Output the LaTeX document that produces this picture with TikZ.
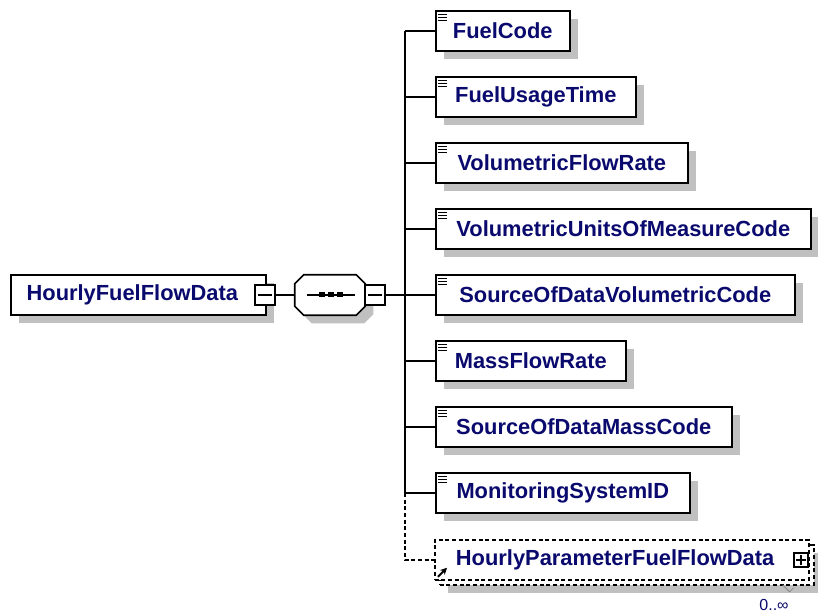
\documentclass[tikz,border=0pt]{standalone}
\usepackage{fontspec}
\setmainfont{Liberation Sans}
\usetikzlibrary{positioning, calc, arrows.meta, shadows}
\definecolor{xsdtext}{RGB}{10,10,110}
\definecolor{xsdshadow}{RGB}{192,192,192}

\begin{document}
\begin{tikzpicture}[x=0.75pt, y=-0.75pt, >=Stealth,
  elembox/.style={rectangle, draw, line width=1.2pt, fill=white, minimum height=30pt, inner sep=0pt, anchor=west, text=xsdtext, font=\fontsize{16.4}{19}\selectfont\bfseries},
  elem/.style={elembox, drop shadow={shadow xshift=6pt, shadow yshift=-6pt, fill=xsdshadow, opacity=1}},
  seqbox/.style={rectangle, minimum width=52.5pt, minimum height=30pt, inner sep=0pt},
  octagon/.style={draw, line width=1.2pt, fill=white, drop shadow={shadow xshift=6pt, shadow yshift=-6pt, fill=xsdshadow, opacity=1}},
  minusbox/.style={rectangle, draw, line width=1pt, fill=white, minimum size=15pt, inner sep=0pt, path picture={\draw[line width=1pt] ([xshift=2.5pt]path picture bounding box.west) -- ([xshift=-2.5pt]path picture bounding box.east);}},
  plusbox/.style={rectangle, draw, line width=1pt, fill=white, minimum size=10.5pt, inner sep=0pt, path picture={\draw[line width=1pt] ([xshift=1.8pt]path picture bounding box.west) -- ([xshift=-1.8pt]path picture bounding box.east) ([yshift=-1.8pt]path picture bounding box.north) -- ([yshift=1.8pt]path picture bounding box.south);}},
  conn/.style={line width=1.2pt}]
        \useasboundingbox (0,0) rectangle (818,616);

        % Nodes
        \node[elem, minimum width=191.25pt] (root) at (10,295) {HourlyFuelFlowData\kern9pt};
        \node[minusbox] (rootmin) at (265,295) {};
        \node[seqbox] (seq) at (330,295) {};
        \draw[octagon] ([xshift=6.75pt]seq.north west) -- ([xshift=-6.75pt]seq.north east) -- ([yshift=-6.75pt]seq.north east) -- ([yshift=6.75pt]seq.south east) -- ([xshift=-6.75pt]seq.south east) -- ([xshift=6.75pt]seq.south west) -- ([yshift=6.75pt]seq.south west) -- ([yshift=-6.75pt]seq.north west) -- cycle;
        \node[minusbox] (seqmin) at (375,295) {};
        \coordinate (trunk) at (405,295);

        \foreach \w/\t [count=\i] in {100.5/FuelCode, 150/FuelUsageTime, 189/VolumetricFlowRate, 281.25/VolumetricUnitsOfMeasureCode, 269.25/SourceOfDataVolumetricCode, 142.5/MassFlowRate, 222/SourceOfDataMassCode, 190.5/MonitoringSystemID}
        \node[elem, minimum width=\w pt] (c\i) at (435,{31+66*(\i-1)}) {\t};

        \node[elem, dashed, dash pattern=on 3pt off 2pt, minimum width=280.5pt] (c9back) at (439,565) {};
        \node[elembox, dashed, dash pattern=on 3pt off 2pt, minimum width=280.5pt] (c9) at (434,560) {HourlyParameterFuelFlowData\kern10pt};
        \node[plusbox] (c9plus) at (801,560) {};
        \node[font=\fontsize{12}{14}\selectfont, text=xsdtext] (c9occ) at (774,605) {0..∞};

        % Sequence mark
        \draw[line width=1.2pt] ([shift={(-23,0)}]seq.center) -- ([shift={(25,0)}]seq.center);
        \foreach \d in {-8.5,1,10}
        \fill ([shift={(\d,0)}]seq.center) +(-3,-2.5) rectangle +(3,2.5);

        % Element icons
        \foreach \i in {1,...,8}
        \foreach \d in {4,7,10}
        \draw[line width=0.9pt] ([shift={(3,\d)}]c\i.north west) -- ++(9,0);
        \draw[-{Stealth[length=5pt,width=5pt]}, line width=1.5pt] ([shift={(4,-4)}]c9.south west) -- ++(9,-9);
        \draw[xsdshadow!70!black, line width=0.6pt] ([shift={(-32,-1)}]c9back.south east) -- ++(7,7) -- ++(4,-4);

        % Connectors
        \draw[conn] (rootmin.east) -- (seq.west);
        \draw[conn] (seqmin.east) -- (trunk);
        \draw[conn] (trunk |- c1.west) -- (trunk |- c8.west);
        \foreach \i in {1,...,8}
        \draw[conn] (trunk |- c\i.west) -- (c\i.west);
        \draw[conn, dashed, dash pattern=on 3pt off 2pt] (trunk |- c8.west) |- (c9.west);

\end{tikzpicture}
\end{document}
